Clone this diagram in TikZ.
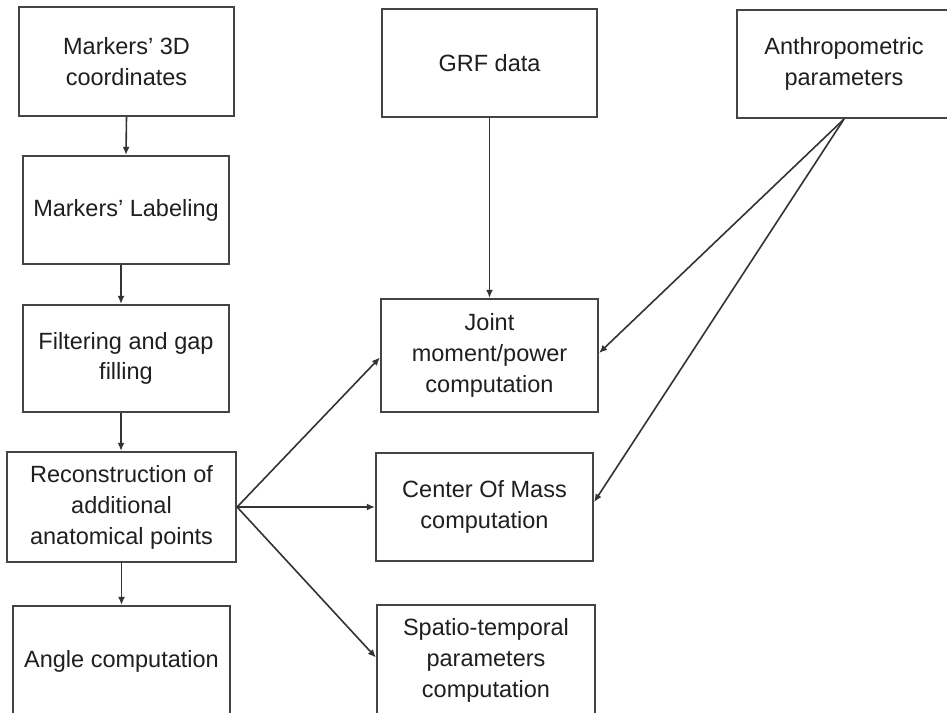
\documentclass[tikz,border=0pt]{standalone}
\usepackage{fontspec}
\setmainfont{Liberation Sans}
\usetikzlibrary{arrows.meta}
\definecolor{boxline}{HTML}{444444}
\definecolor{arrline}{HTML}{333333}
\begin{document}
\begin{tikzpicture}[x=1pt,y=-1pt,
  box/.style={draw=boxline, line width=2.2pt, fill=white, align=center, inner sep=0pt,
    font=\fontsize{23.5}{31}\selectfont, text=black!88},
  conn/.style={draw=arrline, line width=1.6pt, -{Latex[length=8pt,width=7pt]}}]
\useasboundingbox[fill=white] (0,0) rectangle (947,712);
\clip (0,0) rectangle (947,712);
\node[box, minimum width=215pt, minimum height=109pt] (m3d) at (126.5,61.5) {Markers’ 3D\\coordinates};
\node[box, minimum width=206pt, minimum height=108pt] (lab) at (126,210) {Markers’ Labeling};
\node[box, minimum width=206pt, minimum height=107pt, font=\fontsize{23.5}{30}\selectfont] (filt) at (126,358.5) {Filtering and gap\\filling};
\node[box, minimum width=229pt, minimum height=110pt] (rec) at (121.5,507) {Reconstruction of\\additional\\anatomical points};
\node[box, minimum width=217pt, minimum height=110pt] (ang) at (121.5,661) {Angle computation};
\node[box, minimum width=215pt, minimum height=108pt] (grf) at (489.5,63) {GRF data};
\node[box, minimum width=217pt, minimum height=113pt] (joint) at (489.5,355.5) {Joint\\moment/power\\computation};
\node[box, minimum width=217pt, minimum height=108pt] (com) at (484.5,507) {Center Of Mass\\computation};
\node[box, minimum width=218pt, minimum height=111pt] (spt) at (486,660.5) {Spatio-temporal\\parameters\\computation};
\node[box, minimum width=214pt, minimum height=108pt] (ant) at (844,64) {Anthropometric\\parameters};
\draw[conn] (m3d.south) -- (lab.north);
\draw[conn] ([xshift=-5pt]lab.south) -- ([xshift=-5pt]lab.south |- filt.north);
\draw[conn] ([xshift=-5pt]filt.south) -- ([xshift=-5pt]filt.south |- rec.north);
\draw[conn] (rec.south) -- (ang.north);
\draw[conn] (grf.south) -- (joint.north);
\draw[conn] (ant.south) -- ([yshift=2.5pt]joint.east);
\draw[conn] (ant.south) -- ([yshift=5pt]com.east);
\draw[conn] (rec.east) -- ([yshift=-2pt]joint.west);
\draw[conn] (rec.east) -- (com.west);
\draw[conn] (rec.east) -- ([yshift=3pt]spt.west);
\end{tikzpicture}
\end{document}
